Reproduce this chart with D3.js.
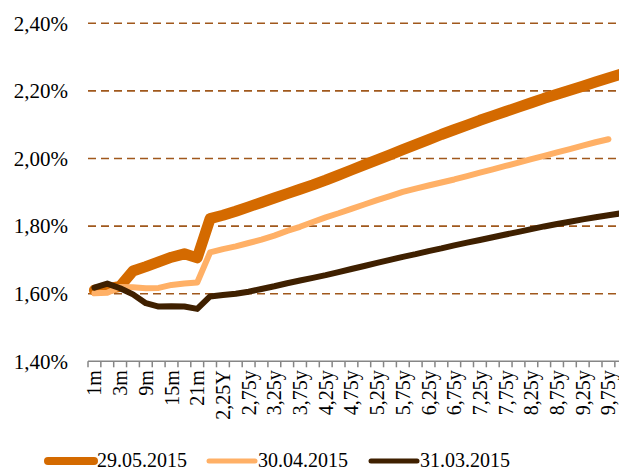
<!DOCTYPE html>
<html>
<head>
<meta charset="utf-8">
<script src="https://cdn.jsdelivr.net/npm/d3@7"></script>
<style>
  body { margin: 0; background: #fff; }
  text { font-family: "Liberation Serif", "DejaVu Serif", serif; fill: #000; }
</style>
</head>
<body>
<svg></svg>
<script>
// Size of the picture
let width = 619,
    height = 472;

// Tenors on the category axis (every other one gets a label)
let tenors = ["1m", "2m", "3m", "6m", "9m", "12m", "15m", "18m", "21m",
    "2y", "2,25Y", "2,5y", "2,75y", "3y", "3,25y", "3,5y", "3,75y", "4y",
    "4,25y", "4,5y", "4,75y", "5y", "5,25y", "5,5y", "5,75y", "6y", "6,25y",
    "6,5y", "6,75y", "7y", "7,25y", "7,5y", "7,75y", "8y", "8,25y", "8,5y",
    "8,75y", "9y", "9,25y", "9,5y", "9,75y", "10y"];

// Curves in percent, one value per tenor
let curve_29_05 = [1.610, 1.614, 1.622, 1.667, 1.680, 1.694, 1.708, 1.718, 1.706,
    1.822, 1.832, 1.844, 1.857, 1.870, 1.883, 1.896, 1.909, 1.922, 1.936, 1.951,
    1.966, 1.981, 1.996, 2.011, 2.026, 2.041, 2.056, 2.071, 2.085, 2.099, 2.113,
    2.126, 2.139, 2.152, 2.165, 2.178, 2.190, 2.202, 2.214, 2.226, 2.238, 2.250];

let curve_30_04 = [1.601, 1.603, 1.620, 1.619, 1.616, 1.617, 1.626, 1.630, 1.633,
    1.722, 1.732, 1.740, 1.750, 1.760, 1.772, 1.786, 1.798, 1.812, 1.826, 1.838,
    1.851, 1.864, 1.877, 1.889, 1.901, 1.911, 1.920, 1.929, 1.938, 1.948, 1.958,
    1.968, 1.978, 1.988, 1.998, 2.008, 2.018, 2.028, 2.038, 2.048, 2.057, null];

let curve_31_03 = [1.618, 1.630, 1.616, 1.598, 1.572, 1.562, 1.563, 1.562, 1.555,
    1.592, 1.596, 1.600, 1.606, 1.614, 1.622, 1.631, 1.639, 1.647, 1.655, 1.664,
    1.673, 1.682, 1.691, 1.700, 1.709, 1.717, 1.726, 1.734, 1.743, 1.751, 1.759,
    1.767, 1.775, 1.783, 1.791, 1.799, 1.806, 1.813, 1.820, 1.826, 1.832, 1.838];

let yTicks = [1.4, 1.6, 1.8, 2.0, 2.2, 2.4];

let seriesNames = ["29.05.2015", "30.04.2015", "31.03.2015"];
let seriesColors = ["#d46a00", "#ffb066", "#3f2000"];

let series = [
    {name: seriesNames[0], values: curve_29_05, color: seriesColors[0], width: 11, legendWidth: 8},
    {name: seriesNames[1], values: curve_30_04, color: seriesColors[1], width: 6, legendWidth: 5},
    {name: seriesNames[2], values: curve_31_03, color: seriesColors[2], width: 6, legendWidth: 5}
];

let svg = d3.select("svg")
    .attr("width", width)
    .attr("height", height);

// Plot area, the right end runs past the picture edge like the original
let left = 88,
    step = 12.85;

let x = d3.scaleBand()
    .domain(tenors)
    .range([left, left + step * tenors.length]);

let y = d3.scaleLinear()
    .domain([1.4, 2.4])
    .range([361.3, 23.3]);

let cx = d => x(d) + x.bandwidth() / 2;
let fmt = d => d.toFixed(2).replace(".", ",") + "%";

// Dashed grid lines (no line on the axis itself)
svg.append("g")
    .selectAll("line")
    .data(yTicks.filter(d => d > 1.4))
    .enter().append("line")
    .attr("x1", left)
    .attr("x2", width)
    .attr("y1", d => y(d))
    .attr("y2", d => y(d))
    .style("stroke", "#a0581c")
    .style("stroke-width", 1.6)
    .style("stroke-dasharray", "8,5");

// Y labels
svg.append("g")
    .selectAll("text")
    .data(yTicks)
    .enter().append("text")
    .attr("x", 68)
    .attr("y", d => y(d))
    .attr("dy", "0.35em")
    .attr("text-anchor", "end")
    .style("font-size", "21px")
    .text(fmt);

// Category axis with ticks between categories
let axis = svg.append("g");

axis.append("line")
    .attr("x1", left)
    .attr("x2", width)
    .attr("y1", y(1.4))
    .attr("y2", y(1.4))
    .style("stroke", "#868686")
    .style("stroke-width", 1.5);

axis.selectAll(".tick")
    .data(tenors)
    .enter().append("line")
    .attr("class", "tick")
    .attr("x1", d => x(d))
    .attr("x2", d => x(d))
    .attr("y1", y(1.4))
    .attr("y2", y(1.4) + 6)
    .style("stroke", "#868686")
    .style("stroke-width", 1.5);

axis.selectAll(".label")
    .data(tenors.filter((d, i) => i % 2 === 0))
    .enter().append("text")
    .attr("class", "label")
    .attr("transform", d => "translate(" + cx(d) + "," + (y(1.4) + 9) + ") rotate(-90)")
    .attr("dy", "0.35em")
    .attr("text-anchor", "end")
    .style("font-size", "20px")
    .text(d => d);

// The curves
let line = d3.line()
    .defined(d => d[1] !== null)
    .x(d => cx(d[0]))
    .y(d => y(d[1]));

svg.append("g")
    .selectAll("path")
    .data(series)
    .enter().append("path")
    .attr("d", s => line(tenors.map((t, i) => [t, s.values[i]])))
    .style("fill", "none")
    .style("stroke", s => s.color)
    .style("stroke-width", s => s.width)
    .style("stroke-linejoin", "round")
    .style("stroke-linecap", "round");

// Legend at the bottom, kept just inside the picture
let legendX = [48, 209, 371];

let legend = svg.append("g")
    .selectAll("g")
    .data(series)
    .enter().append("g")
    .attr("transform", (s, i) => "translate(" + legendX[i] + ",461)");

legend.append("line")
    .attr("x1", 0)
    .attr("x2", 46)
    .style("stroke", s => s.color)
    .style("stroke-width", s => s.legendWidth)
    .style("stroke-linecap", "round");

legend.append("text")
    .attr("x", 49)
    .attr("y", 6)
    .style("font-size", "20px")
    .text(s => s.name);
</script>
</body>
</html>
